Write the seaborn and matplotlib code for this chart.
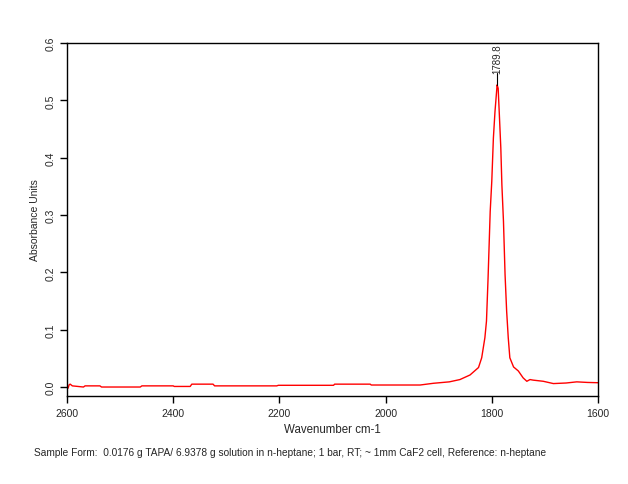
import numpy as np
import pandas as pd
import matplotlib
matplotlib.use("Agg")
import matplotlib.pyplot as plt
import seaborn as sns

# Spectrum (wavenumber, absorbance)
wavenumber = [2600, 2598, 2596, 2594, 2590, 2569, 2566, 2538, 2535, 2462, 2459, 2400, 2398,
              2368, 2365, 2325, 2322, 2205, 2202, 2098, 2096, 2029, 2027, 1935, 1910, 1880,
              1860, 1841, 1825, 1819, 1813, 1810, 1807, 1803, 1800, 1797, 1794, 1791, 1790,
              1788, 1786, 1783, 1781, 1778, 1775, 1772, 1769, 1766, 1759, 1750, 1741, 1734,
              1728, 1722, 1703, 1684, 1660, 1640, 1620, 1600]
absorbance = [0.002, -0.002, 0.004, 0.005, 0.002, 0.0, 0.002, 0.002, 0.0, 0.0, 0.002, 0.002, 0.001,
              0.001, 0.005, 0.005, 0.002, 0.002, 0.003, 0.003, 0.005, 0.005, 0.0035, 0.0035, 0.0065, 0.009,
              0.013, 0.021, 0.034, 0.051, 0.086, 0.115, 0.19, 0.306, 0.359, 0.434, 0.48, 0.515, 0.527,
              0.521, 0.48, 0.417, 0.353, 0.289, 0.196, 0.132, 0.086, 0.051, 0.035, 0.028, 0.016, 0.010,
              0.013, 0.012, 0.010, 0.006, 0.007, 0.009, 0.008, 0.0075]
peak_pos = 1789.8
peak_val = 0.527
peak_label = "1789.8"
footer = ("Sample Form:  0.0176 g TAPA/ 6.9378 g solution in n-heptane; 1 bar, RT; ~ 1mm CaF2 cell, "
          "Reference: n-heptane")

df = pd.DataFrame({"wavenumber": wavenumber, "absorbance": absorbance})

sns.set_style("ticks")
plt.rcParams['font.family'] = ['Liberation Sans', 'DejaVu Sans']

fig = plt.figure(figsize=(6.28, 4.85), dpi=100)
ax = fig.add_axes([0.1067, 0.1814, 0.8455, 0.7279])

sns.lineplot(data=df, x="wavenumber", y="absorbance", sort=False, color="red", linewidth=1, ax=ax)

# peak marker
ax.plot([peak_pos, peak_pos], [peak_val, peak_val + 0.02], color="black", linewidth=0.8)
ax.text(peak_pos, peak_val + 0.02, peak_label, rotation=90, ha="center", va="bottom", fontsize=7)

ax.set_xlim(2600, 1600)
ax.set_ylim(-0.0157, 0.6)
ax.set_xticks([2600, 2400, 2200, 2000, 1800, 1600])
ax.set_yticks([0.0, 0.1, 0.2, 0.3, 0.4, 0.5, 0.6])
ax.set_yticklabels(["0.0", "0.1", "0.2", "0.3", "0.4", "0.5", "0.6"], rotation=90, va="center")
ax.tick_params(axis="both", labelsize=7.5, length=5, width=1, color="black", direction="out")
for s in ax.spines.values():
    s.set_color("black")
    s.set_linewidth(1)

ax.set_xlabel("Wavenumber cm-1", fontsize=8.3)
ax.set_ylabel("Absorbance Units", fontsize=7.5)

fig.text(34 / 628, 1 - 453 / 485, footer, fontsize=7.25, va="center", ha="left")

fig.savefig("out.png", dpi=100)
